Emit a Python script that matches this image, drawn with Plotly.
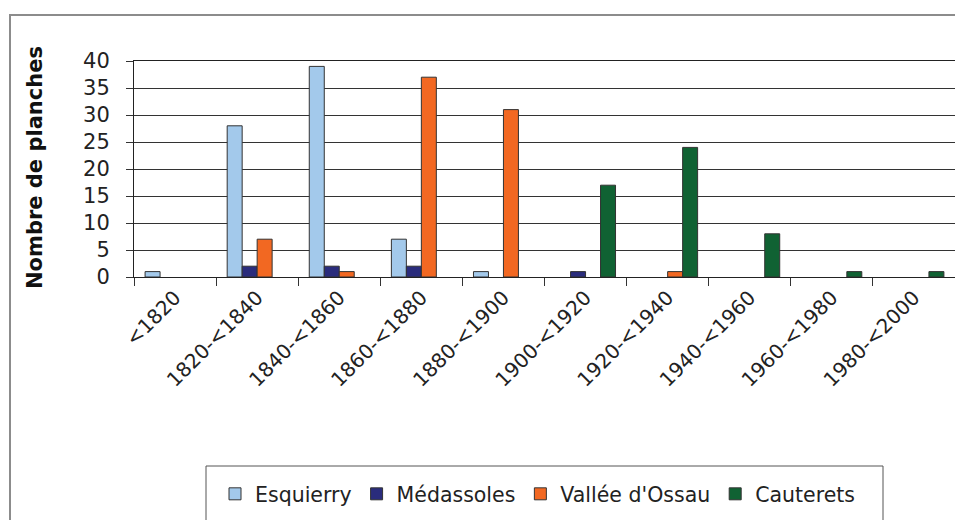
import plotly.graph_objects as go

categories = ["<1820", "1820-<1840", "1840-<1860", "1860-<1880", "1880-<1900",
              "1900-<1920", "1920-<1940", "1940-<1960", "1960-<1980", "1980-<2000"]
esquierry = [1, 28, 39, 7, 1, 0, 0, 0, 0, 0]
medassoles = [0, 2, 2, 2, 0, 1, 0, 0, 0, 0]
vallee_ossau = [0, 7, 1, 37, 31, 0, 1, 0, 0, 0]
cauterets = [0, 0, 0, 0, 0, 17, 24, 8, 1, 1]

series = [
    ("Esquierry", esquierry, "#A3C9EB"),
    ("Médassoles", medassoles, "#2A2C7C"),
    ("Vallée d'Ossau", vallee_ossau, "#F26822"),
    ("Cauterets", cauterets, "#106233"),
]

# page body has an 8px margin: figure origin sits at (8, 8) of the window
OFF = 8
W, H = 963 - OFF, 520 - OFF
L, T = 134 - OFF, 61 - OFF
R = W - (955 - OFF)
B = H - (277 - OFF)
pw, ph = W - L - R, H - T - B

def px(X):
    return (X - OFF - L) / pw

def py(Y):
    return (H - B - (Y - OFF)) / ph

fig = go.Figure()
for name, vals, col in series:
    fig.add_trace(go.Bar(
        name=name, x=categories, y=[v if v != 0 else None for v in vals],
        marker=dict(color=col, line=dict(color="#333333", width=1)),
    ))

font = "DejaVu Sans"
fig.update_layout(
    width=W, height=H,
    margin=dict(l=L, r=R, t=T, b=B, autoexpand=False),
    paper_bgcolor="white", plot_bgcolor="white",
    barmode="group", bargap=0.27, bargroupgap=0,
    font=dict(family=font, color="#222222"),
    showlegend=True,
    legend=dict(orientation="h", x=px(215), y=py(494), xanchor="left", yanchor="middle",
                font=dict(size=20.5, family=font, color="#222222"),
                bgcolor="rgba(0,0,0,0)", itemclick=False),
    xaxis=dict(type="category", tickson="boundaries", ticks="outside", ticklen=8,
               tickcolor="#333333", tickangle=-45,
               tickfont=dict(size=20, family=font, color="#222222"),
               showline=True, linecolor="#222222", linewidth=1, mirror=True,
               showgrid=False, automargin=False),
    yaxis=dict(range=[0, 40], dtick=5, ticks="outside", ticklen=7, tickcolor="#333333",
               tickfont=dict(size=21, family=font, color="#222222"),
               ticklabelstandoff=12,
               showline=True, linecolor="#222222", linewidth=1, mirror=True,
               showgrid=True, gridcolor="#333333", gridwidth=1, zeroline=False,
               automargin=False),
    annotations=[dict(text="<b>Nombre de planches</b>", textangle=-90,
                      xref="paper", yref="paper", x=px(35), y=py(168),
                      xanchor="center", yanchor="middle",
                      showarrow=False, font=dict(size=21, family=font, color="#111111"))],
    shapes=[
        dict(type="rect", xref="paper", yref="paper", x0=px(10), x1=px(980),
             y0=py(540), y1=py(15), line=dict(color="#8c8c8c", width=2), layer="below"),
        dict(type="rect", xref="paper", yref="paper", x0=px(206), x1=px(883),
             y0=py(540), y1=py(466), line=dict(color="#555555", width=1), layer="below"),
    ],
)

fig.write_html("out.html")
